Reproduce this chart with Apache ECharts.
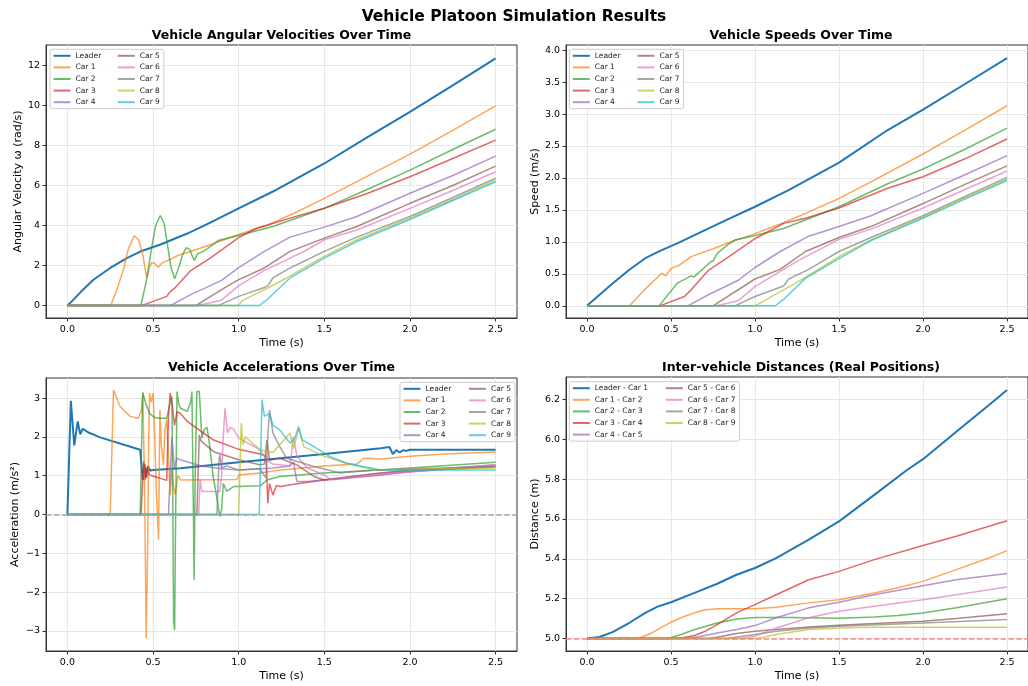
<!DOCTYPE html>
<html>
<head>
<meta charset="utf-8">
<title>Vehicle Platoon Simulation Results</title>
<script src="https://cdn.jsdelivr.net/npm/echarts@6/dist/echarts.min.js"></script>
<style>
  html, body { margin: 0; padding: 0; background: #fff; }
  #chart { width: 1028px; height: 686px; }
</style>
</head>
<body>
<div id="chart"></div>
<script>
// ---- labels ----
const carNames = ['Leader', 'Car 1', 'Car 2', 'Car 3', 'Car 4', 'Car 5', 'Car 6', 'Car 7', 'Car 8', 'Car 9']
const gapNames = ['Leader - Car 1', 'Car 1 - Car 2', 'Car 2 - Car 3', 'Car 3 - Car 4', 'Car 4 - Car 5',
  'Car 5 - Car 6', 'Car 6 - Car 7', 'Car 7 - Car 8', 'Car 8 - Car 9']

// ---- tick labels ----
const timeTicks = [0, 0.5, 1.0, 1.5, 2.0, 2.5]
const omegaTicks = [0, 2, 4, 6, 8, 10, 12]
const speedTicks = [0, 0.5, 1.0, 1.5, 2.0, 2.5, 3.0, 3.5, 4.0]
const accTicks = [-3, -2, -1, 0, 1, 2, 3]
const distTicks = [5.0, 5.2, 5.4, 5.6, 5.8, 6.0, 6.2]

// ---- angular velocity (rad/s), [time, value] ----
const wLeader = [[0,0],[0.026,0.21],[0.08,0.7],[0.152,1.29],[0.25,1.88],[0.347,2.37],[0.425,2.7],[0.54,3.04],[0.7,3.6],[0.834,4.15],[1.0,4.86],[1.2,5.7],[1.5,7.1],[1.75,8.4],[2.0,9.68],[2.25,11.0],[2.5,12.35]]
const wCar1 = [[0,0],[0.253,0],[0.289,0.8],[0.327,1.79],[0.357,2.87],[0.39,3.49],[0.415,3.29],[0.44,2.54],[0.46,1.54],[0.466,1.38],[0.478,1.9],[0.493,2.16],[0.51,2.1],[0.532,1.91],[0.55,2.12],[0.6,2.3],[0.64,2.49],[0.736,2.75],[0.834,3.04],[1.0,3.55],[1.17,4.03],[1.32,4.6],[1.5,5.36],[1.69,6.19],[2.0,7.57],[2.25,8.75],[2.5,9.98]]
const wCar2 = [[0,0],[0.429,0],[0.46,1.2],[0.49,2.8],[0.515,4.0],[0.542,4.5],[0.565,4.1],[0.585,3.0],[0.605,1.9],[0.626,1.34],[0.65,1.9],[0.675,2.6],[0.694,2.9],[0.715,2.8],[0.73,2.45],[0.742,2.26],[0.76,2.59],[0.78,2.66],[0.8,2.75],[0.834,2.95],[0.88,3.25],[1.0,3.5],[1.2,3.95],[1.5,4.86],[1.75,5.8],[2.0,6.77],[2.25,7.8],[2.5,8.81]]
const wCar3 = [[0,0],[0.433,0],[0.58,0.46],[0.6,0.7],[0.63,0.9],[0.72,1.75],[0.834,2.37],[1.0,3.4],[1.1,3.85],[1.17,4.03],[1.3,4.37],[1.5,4.86],[1.75,5.6],[2.0,6.44],[2.25,7.35],[2.5,8.27]]
const wCar4 = [[0,0],[0.6,0],[0.72,0.55],[0.9,1.26],[1.0,1.9],[1.15,2.71],[1.3,3.42],[1.5,3.92],[1.69,4.45],[2.0,5.61],[2.25,6.5],[2.5,7.47]]
const wCar5 = [[0,0],[0.75,0],[0.76,0.05],[0.9,0.8],[1.0,1.3],[1.15,1.88],[1.3,2.71],[1.5,3.37],[1.69,3.95],[2.0,5.11],[2.25,6.0],[2.5,6.97]]
const wCar6 = [[0,0],[0.76,0],[0.9,0.27],[1.0,1.0],[1.15,1.76],[1.24,2.12],[1.4,2.79],[1.5,3.29],[1.69,3.78],[2.0,4.86],[2.25,5.75],[2.5,6.69]]
const wCar7 = [[0,0],[0.88,0],[1.0,0.46],[1.15,0.9],[1.17,1.0],[1.2,1.38],[1.3,1.88],[1.5,2.71],[1.69,3.42],[2.0,4.45],[2.25,5.4],[2.5,6.36]]
const wCar8 = [[0,0],[1.0,0],[1.02,0.25],[1.17,0.88],[1.28,1.38],[1.5,2.46],[1.69,3.29],[2.0,4.37],[2.25,5.3],[2.5,6.27]]
const wCar9 = [[0,0],[1.12,0],[1.17,0.33],[1.3,1.38],[1.5,2.37],[1.69,3.2],[2.0,4.3],[2.25,5.25],[2.5,6.19]]

// ---- speeds (m/s) ----
const vLeader = [[0,0],[0.152,0.35],[0.25,0.56],[0.347,0.745],[0.435,0.86],[0.54,0.98],[0.834,1.35],[1.0,1.55],[1.2,1.81],[1.5,2.24],[1.79,2.75],[2.0,3.07],[2.25,3.47],[2.5,3.875]]
const vCar1 = [[0,0],[0.253,0],[0.35,0.27],[0.444,0.51],[0.468,0.47],[0.5,0.58],[0.522,0.61],[0.545,0.63],[0.62,0.77],[0.76,0.9],[0.834,0.98],[1.0,1.13],[1.17,1.3],[1.32,1.47],[1.5,1.68],[1.69,1.94],[2.0,2.375],[2.25,2.75],[2.5,3.13]]
const vCar2 = [[0,0],[0.429,0],[0.54,0.36],[0.62,0.47],[0.635,0.45],[0.7,0.6],[0.736,0.69],[0.75,0.7],[0.776,0.82],[0.834,0.95],[0.88,1.03],[1.0,1.1],[1.17,1.21],[1.5,1.55],[1.79,1.91],[2.0,2.14],[2.25,2.45],[2.5,2.78]]
const vCar3 = [[0,0],[0.433,0],[0.58,0.146],[0.62,0.25],[0.72,0.55],[0.834,0.75],[1.0,1.05],[1.17,1.29],[1.3,1.37],[1.5,1.53],[1.79,1.84],[2.0,2.02],[2.25,2.3],[2.5,2.61]]
const vCar4 = [[0,0],[0.6,0],[0.72,0.17],[0.9,0.4],[1.0,0.6],[1.15,0.85],[1.32,1.09],[1.5,1.24],[1.69,1.41],[2.0,1.76],[2.25,2.05],[2.5,2.35]]
const vCar5 = [[0,0],[0.75,0],[1.0,0.42],[1.15,0.57],[1.3,0.85],[1.5,1.07],[1.69,1.24],[2.0,1.6],[2.25,1.9],[2.5,2.19]]
const vCar6 = [[0,0],[0.77,0],[0.9,0.08],[1.0,0.3],[1.15,0.54],[1.26,0.71],[1.5,1.04],[1.69,1.2],[2.0,1.53],[2.25,1.82],[2.5,2.11]]
const vCar7 = [[0,0],[0.88,0],[1.0,0.146],[1.17,0.31],[1.2,0.42],[1.32,0.57],[1.5,0.85],[1.69,1.07],[2.0,1.41],[2.25,1.71],[2.5,2.01]]
const vCar8 = [[0,0],[1.0,0],[1.17,0.25],[1.29,0.43],[1.5,0.77],[1.69,1.03],[2.0,1.39],[2.25,1.69],[2.5,1.98]]
const vCar9 = [[0,0],[1.12,0],[1.17,0.1],[1.3,0.43],[1.5,0.74],[1.69,1.02],[2.0,1.37],[2.25,1.67],[2.5,1.96]]

// ---- accelerations (m/s²) ----
const aLeader = [[0,0],[0.02,2.93],[0.04,1.78],[0.06,2.4],[0.075,2.07],[0.09,2.21],[0.12,2.12],[0.191,1.99],[0.425,1.67],[0.44,0.89],[0.45,1.3],[0.46,0.95],[0.47,1.25],[0.483,1.13],[0.5,1.15],[0.66,1.19],[1.0,1.35],[1.5,1.56],[1.83,1.71],[1.88,1.74],[1.9,1.56],[1.92,1.66],[1.94,1.6],[1.96,1.66],[1.98,1.64],[2.0,1.67],[2.5,1.67]]
const aCar1 = [[0,0],[0.25,0],[0.269,3.21],[0.308,2.78],[0.366,2.53],[0.415,2.48],[0.432,2.7],[0.44,3.13],[0.45,1.0],[0.46,-3.19],[0.468,-1.0],[0.475,2.0],[0.48,3.13],[0.49,2.9],[0.5,3.13],[0.51,2.0],[0.52,0.5],[0.532,-0.65],[0.54,2.7],[0.548,1.8],[0.56,1.28],[0.57,2.2],[0.58,2.45],[0.59,1.5],[0.6,0.5],[0.61,1.2],[0.62,0.7],[0.63,0.51],[0.645,1.0],[0.66,0.89],[0.99,0.9],[1.0,1.02],[1.125,1.07],[1.243,1.15],[1.5,1.25],[1.69,1.3],[1.73,1.45],[1.83,1.43],[2.0,1.5],[2.2,1.56],[2.5,1.61]]
const aCar2 = [[0,0],[0.425,0],[0.44,3.15],[0.455,2.9],[0.48,2.6],[0.51,2.5],[0.54,2.48],[0.58,2.48],[0.6,2.9],[0.61,3.04],[0.615,0.5],[0.62,-2.76],[0.626,-2.98],[0.632,0.0],[0.64,3.17],[0.65,2.85],[0.66,2.74],[0.7,2.66],[0.72,2.9],[0.727,3.17],[0.733,1.0],[0.74,-1.69],[0.746,1.0],[0.756,3.17],[0.77,3.17],[0.785,1.97],[0.8,2.2],[0.815,2.25],[0.83,1.8],[0.85,1.0],[0.87,0.5],[0.89,-0.05],[0.9,0.1],[0.91,0.8],[0.93,0.6],[0.97,0.72],[1.0,0.72],[1.125,0.74],[1.165,0.89],[1.24,0.98],[1.5,1.07],[1.83,1.15],[2.0,1.2],[2.5,1.35]]
const aCar3 = [[0,0],[0.43,0],[0.445,1.37],[0.455,0.9],[0.465,1.2],[0.48,1.02],[0.58,0.88],[0.59,2.5],[0.6,3.13],[0.61,2.9],[0.625,2.3],[0.64,2.65],[0.659,2.61],[0.7,2.4],[0.756,2.22],[0.854,1.92],[1.0,1.68],[1.125,1.56],[1.16,1.5],[1.17,0.29],[1.18,0.8],[1.2,0.5],[1.22,0.75],[1.243,0.72],[1.34,0.79],[1.5,0.89],[1.83,1.07],[2.0,1.15],[2.5,1.24]]
const aCar4 = [[0,0],[0.59,0],[0.61,1.97],[0.625,1.2],[0.64,1.45],[0.66,1.41],[0.78,1.25],[0.9,1.18],[1.0,1.15],[1.2,1.2],[1.3,1.25],[1.32,1.35],[1.34,0.85],[1.4,0.85],[1.59,0.94],[1.79,1.05],[2.5,1.28]]
const aCar5 = [[0,0],[0.756,0],[0.77,2.05],[0.78,1.9],[0.795,1.84],[0.854,1.62],[1.0,1.41],[1.125,1.28],[1.15,1.3],[1.165,1.92],[1.18,1.4],[1.24,1.45],[1.34,1.28],[1.44,0.98],[1.5,0.89],[1.59,0.92],[1.79,1.0],[2.0,1.1],[2.5,1.24]]
const aCar6 = [[0,0],[0.766,0],[0.775,0.9],[0.785,0.59],[0.89,0.59],[0.9,1.0],[0.91,2.0],[0.92,2.74],[0.935,2.1],[0.95,2.25],[0.97,2.2],[1.0,1.97],[1.125,1.67],[1.165,1.4],[1.2,1.3],[1.3,1.25],[1.32,2.0],[1.34,1.5],[1.4,1.2],[1.5,1.02],[1.54,0.89],[1.79,1.02],[2.5,1.28]]
const aCar7 = [[0,0],[0.873,0],[0.885,1.4],[0.89,1.54],[0.9,1.2],[0.93,1.25],[1.0,1.15],[1.125,1.18],[1.16,0.94],[1.17,2.0],[1.18,2.7],[1.2,2.1],[1.24,1.75],[1.28,1.45],[1.44,1.24],[1.59,1.07],[1.79,1.15],[2.5,1.24]]
const aCar8 = [[0,0],[1.0,0],[1.015,2.36],[1.025,1.8],[1.04,2.0],[1.125,1.67],[1.2,1.6],[1.3,2.1],[1.32,1.7],[1.35,2.22],[1.38,1.75],[1.44,1.62],[1.5,1.5],[1.63,1.32],[1.79,1.15],[2.5,1.2]]
const aCar9 = [[0,0],[1.12,0],[1.136,2.96],[1.15,2.53],[1.18,2.6],[1.2,2.3],[1.24,2.18],[1.3,1.84],[1.33,2.0],[1.35,2.27],[1.37,1.93],[1.44,1.75],[1.53,1.5],[1.63,1.32],[1.83,1.15],[2.0,1.15],[2.5,1.15]]

// ---- inter-vehicle distances (m) ----
const dL1 = [[0,5.0],[0.074,5.008],[0.152,5.032],[0.25,5.078],[0.347,5.129],[0.42,5.16],[0.5,5.182],[0.64,5.229],[0.775,5.275],[0.89,5.32],[1.0,5.354],[1.126,5.404],[1.32,5.496],[1.5,5.588],[1.71,5.721],[1.905,5.846],[2.0,5.9],[2.198,6.038],[2.393,6.172],[2.5,6.247]]
const d12 = [[0,5.0],[0.308,5.0],[0.386,5.028],[0.5,5.082],[0.57,5.108],[0.64,5.129],[0.7,5.143],[0.775,5.149],[0.89,5.149],[1.0,5.149],[1.126,5.157],[1.32,5.179],[1.5,5.195],[1.71,5.229],[1.85,5.255],[2.0,5.287],[2.198,5.346],[2.393,5.404],[2.5,5.441]]
const d23 = [[0,5.0],[0.483,5.0],[0.56,5.02],[0.64,5.045],[0.775,5.078],[0.89,5.098],[1.0,5.105],[1.22,5.105],[1.5,5.102],[1.71,5.108],[1.85,5.116],[2.0,5.128],[2.198,5.154],[2.5,5.2]]
const d34 = [[0,5.0],[0.5,5.0],[0.57,5.004],[0.64,5.015],[0.7,5.035],[0.775,5.07],[0.89,5.129],[1.0,5.17],[1.126,5.22],[1.32,5.295],[1.5,5.337],[1.71,5.396],[2.0,5.467],[2.198,5.513],[2.5,5.591]]
const d45 = [[0,5.0],[0.6,5.0],[0.68,5.012],[0.775,5.028],[0.89,5.045],[1.0,5.065],[1.126,5.104],[1.32,5.154],[1.5,5.182],[1.71,5.22],[2.0,5.265],[2.198,5.295],[2.5,5.326]]
const d56 = [[0,5.0],[0.736,5.0],[0.89,5.025],[1.0,5.037],[1.126,5.045],[1.32,5.058],[1.5,5.067],[1.71,5.075],[2.0,5.087],[2.198,5.1],[2.5,5.124]]
const d67 = [[0,5.0],[0.91,5.0],[1.0,5.012],[1.126,5.053],[1.32,5.104],[1.5,5.137],[1.71,5.162],[2.0,5.195],[2.198,5.22],[2.5,5.259]]
const d78 = [[0,5.0],[0.83,5.0],[1.0,5.02],[1.126,5.037],[1.32,5.053],[1.5,5.062],[2.0,5.078],[2.5,5.095]]
const d89 = [[0,5.0],[1.01,5.0],[1.126,5.02],[1.32,5.045],[1.5,5.053],[1.71,5.057],[2.5,5.057]]

const omegaData = [wLeader, wCar1, wCar2, wCar3, wCar4, wCar5, wCar6, wCar7, wCar8, wCar9]
const speedData = [vLeader, vCar1, vCar2, vCar3, vCar4, vCar5, vCar6, vCar7, vCar8, vCar9]
const accData = [aLeader, aCar1, aCar2, aCar3, aCar4, aCar5, aCar6, aCar7, aCar8, aCar9]
const distData = [dL1, d12, d23, d34, d45, d56, d67, d78, d89]

// ---- style ----
const FONT = 'DejaVu Sans'
const colors = ['#1f77b4', '#ff7f0e', '#2ca02c', '#d62728', '#9467bd', '#8c564b', '#e377c2', '#7f7f7f', '#bcbd22', '#17becf']

// grids: [left, top, width, height]
const gridBoxes = [
  [46, 45, 471, 273],
  [566, 45, 470, 273],
  [46, 378, 471, 273],
  [566, 377, 470, 274]
]
const yRanges = [[-0.62, 13.02], [-0.19, 4.08], [-3.52, 3.52], [4.9375, 6.3125]]

function makeXAxis(gi) {
  return {
    type: 'value', gridIndex: gi, min: -0.125, max: 2.625,
    name: 'Time (s)', nameLocation: 'middle', nameGap: 19.5,
    nameTextStyle: { fontSize: 11, color: '#000', fontFamily: FONT },
    axisLine: { show: true, onZero: false, lineStyle: { color: '#333', width: 1 } },
    axisTick: { show: true, length: 3.5, customValues: timeTicks, lineStyle: { color: '#333' } },
    axisLabel: { customValues: timeTicks, formatter: (v) => v.toFixed(1), fontSize: 9.5, color: '#000', margin: 7, fontFamily: FONT },
    splitLine: { show: true, lineStyle: { color: '#e7e7e7', width: 1 } }
  }
}

function makeYAxis(gi, name, ticks, fmt, gap) {
  return {
    type: 'value', gridIndex: gi, min: yRanges[gi][0], max: yRanges[gi][1],
    name, nameLocation: 'middle', nameGap: gap,
    nameTextStyle: { fontSize: 11, color: '#000', fontFamily: FONT },
    axisLine: { show: true, onZero: false, lineStyle: { color: '#333', width: 1 } },
    axisTick: { show: true, length: 3.5, customValues: ticks, lineStyle: { color: '#333' } },
    axisLabel: { customValues: ticks, formatter: fmt, fontSize: 9.5, color: '#000', margin: 6, fontFamily: FONT },
    splitLine: { show: true, lineStyle: { color: '#e7e7e7', width: 1 } }
  }
}

function makeSeries(names, dataList, gi) {
  return dataList.map((d, i) => ({
    name: names[i],
    type: 'line',
    xAxisIndex: gi,
    yAxisIndex: gi,
    data: d,
    symbol: 'none',
    showSymbol: false,
    animation: false,
    lineStyle: { color: colors[i], width: i === 0 ? 2 : 1.5, opacity: i === 0 ? 1 : 0.7 },
    itemStyle: { color: colors[i], opacity: i === 0 ? 1 : 0.7 }
  }))
}

function makeLegend(names, left, top, colW) {
  return {
    show: true, orient: 'vertical', left, top, height: 60,
    itemWidth: 17, itemHeight: 9, itemGap: 2.6,
    padding: [2, 4, 2, 2.5],
    backgroundColor: 'rgba(255,255,255,0.85)',
    borderColor: '#cccccc', borderWidth: 1, borderRadius: 2,
    selectedMode: false,
    itemStyle: { opacity: 0 },
    textStyle: { fontSize: 7.5, color: '#222', lineHeight: 9, fontFamily: FONT },
    data: names.map((n, i) => (i < 5 ? { name: n, textStyle: { width: colW } } : { name: n }))
  }
}

function refLine(color, y) {
  return {
    silent: true, symbol: 'none', animation: false,
    label: { show: false },
    lineStyle: { color, type: [5.5, 2.4], width: 1.5, opacity: 1 },
    data: [{ yAxis: y }]
  }
}

const titleStyle = { fontSize: 12.5, fontWeight: 'bold', color: '#000', fontFamily: FONT }

const accSeries = makeSeries(carNames, accData, 2)
accSeries[0].markLine = refLine('#a6a6a6', 0)
const distSeries = makeSeries(gapNames, distData, 3)
distSeries[0].markLine = refLine('#ff8585', 5.0)

const option = {
  backgroundColor: '#fff',
  animation: false,
  title: [
    { text: 'Vehicle Platoon Simulation Results', left: 514, top: 8.5, textAlign: 'center', padding: 0,
      textStyle: { fontSize: 15.5, fontWeight: 'bold', color: '#000', fontFamily: FONT } },
    { text: 'Vehicle Angular Velocities Over Time', left: 281.5, top: 29.5, textAlign: 'center', padding: 0, textStyle: titleStyle },
    { text: 'Vehicle Speeds Over Time', left: 801, top: 29.5, textAlign: 'center', padding: 0, textStyle: titleStyle },
    { text: 'Vehicle Accelerations Over Time', left: 281.5, top: 361.5, textAlign: 'center', padding: 0, textStyle: titleStyle },
    { text: 'Inter-vehicle Distances (Real Positions)', left: 801, top: 361.5, textAlign: 'center', padding: 0, textStyle: titleStyle }
  ],
  grid: gridBoxes.map(([l, t, w, h]) => ({
    left: l, top: t, width: w, height: h, show: true,
    borderColor: '#333', borderWidth: 1, backgroundColor: '#fff', containLabel: false
  })),
  legend: [
    makeLegend(carNames, 50, 49.3, 38.7),
    makeLegend(carNames, 569.3, 49.3, 39.1),
    makeLegend(carNames, 400, 382.3, 39.8),
    makeLegend(gapNames, 569.3, 381.7, 67.4)
  ],
  xAxis: [0, 1, 2, 3].map(makeXAxis),
  yAxis: [
    makeYAxis(0, 'Angular Velocity ω (rad/s)', omegaTicks, (v) => String(v), 22),
    makeYAxis(1, 'Speed (m/s)', speedTicks, (v) => v.toFixed(1), 24.5),
    makeYAxis(2, 'Acceleration (m/s²)', accTicks, (v) => (v < 0 ? '\u2212' + Math.abs(v) : String(v)), 25.5),
    makeYAxis(3, 'Distance (m)', distTicks, (v) => v.toFixed(1), 24.5)
  ],
  series: [
    ...makeSeries(carNames, omegaData, 0),
    ...makeSeries(carNames, speedData, 1),
    ...accSeries,
    ...distSeries
  ]
}

const chart = echarts.init(document.getElementById('chart'), null, { renderer: 'canvas' })
chart.setOption(option)
window.onresize = chart.resize
</script>
</body>
</html>
